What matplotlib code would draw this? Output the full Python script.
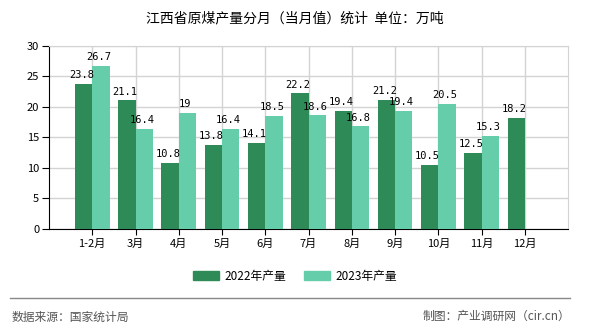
import numpy as np
import matplotlib
matplotlib.use("Agg")
import matplotlib.pyplot as plt
from matplotlib.lines import Line2D

plt.rcParams['font.family'] = ['Noto Sans CJK SC', 'DejaVu Sans']

months = ["1-2月", "3月", "4月", "5月", "6月", "7月", "8月", "9月", "10月", "11月", "12月"]
output_2022 = [23.8, 21.1, 10.8, 13.8, 14.1, 22.2, 19.4, 21.2, 10.5, 12.5, 18.2]
output_2023 = [26.7, 16.4, 19.0, 16.4, 18.5, 18.6, 16.8, 19.4, 20.5, 15.3, None]
series_names = ["2022年产量", "2023年产量"]

c22 = "#2e8b57"
c23 = "#66cdaa"

fig = plt.figure(figsize=(5.9, 3.3), dpi=100)
ax = fig.add_axes([0.083, 0.306, 0.880, 0.555])

x = np.arange(len(months))
w = 0.4

def fmt(v):
    return f"{v:g}"

ax.bar(x - w / 2, output_2022, width=w, color=c22, zorder=3)
for xi, v in zip(x, output_2022):
    ax.text(xi - w / 2 - 0.05, v + 0.6, fmt(v), ha="center", va="bottom",
            fontsize=7.5, family="DejaVu Sans Mono", zorder=4)

x23 = [xi for xi, v in zip(x, output_2023) if v is not None]
v23 = [v for v in output_2023 if v is not None]
ax.bar(np.array(x23) + w / 2, v23, width=w, color=c23, zorder=3)
for xi, v in zip(x23, v23):
    ax.text(xi + w / 2 - 0.05, v + 0.6, fmt(v), ha="center", va="bottom",
            fontsize=7.5, family="DejaVu Sans Mono", zorder=4)

ax.set_xlim(-1, 11)
ax.set_ylim(0, 30)
ax.set_xticks(x)
ax.set_xticklabels(months, fontsize=8)
ax.set_yticks(range(0, 31, 5))
ax.tick_params(axis="y", labelsize=8, length=5, direction="out", pad=2)
ax.tick_params(axis="x", length=4, direction="out", pad=3)
ax.grid(True, color="#d3d3d3", linewidth=1, zorder=0)
ax.set_axisbelow(True)
for s in ["top", "right"]:
    ax.spines[s].set_color("#d3d3d3")
for s in ["left", "bottom"]:
    ax.spines[s].set_color("black")

fig.text(0.5, 0.945, "江西省原煤产量分月（当月值）统计  单位：万吨",
         ha="center", va="center", fontsize=10)

handles = [plt.Rectangle((0, 0), 1, 1, color=c22), plt.Rectangle((0, 0), 1, 1, color=c23)]
fig.legend(handles, series_names, loc="center", bbox_to_anchor=(0.5, 0.162),
           ncol=2, frameon=False, fontsize=8.5, handlelength=2.2, handleheight=0.8,
           columnspacing=1.5, handletextpad=0.5)

fig.add_artist(Line2D([0.017, 0.966], [0.097, 0.097], color="#888888", linewidth=1))
fig.text(0.02, 0.04, "数据来源：国家统计局", ha="left", va="center", fontsize=8.5, color="#555555")
fig.text(0.966, 0.04, "制图：产业调研网（cir.cn）", ha="right", va="center", fontsize=8.5, color="#555555")

fig.savefig("out.png", dpi=100)
